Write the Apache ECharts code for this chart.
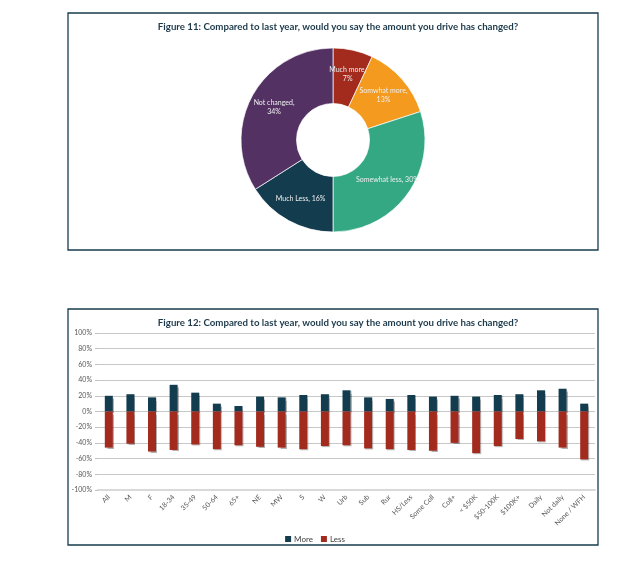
<!DOCTYPE html>
<html>
<head>
<meta charset="utf-8">
<script src="https://cdn.jsdelivr.net/npm/echarts@6/dist/echarts.min.js"></script>
<style>
  html, body { margin: 0; padding: 0; background: #fff; }
  #main { width: 630px; height: 562px; }
</style>
</head>
<body>
<div id="main"></div>
<script>
// figure 11 - pie
var pieNames = ['Much more', 'Somwhat more', 'Somewhat less', 'Much Less', 'Not changed'];
var pieValues = [7, 13, 30, 16, 34];
var pieColors = ['#a22b1e', '#f39a1f', '#34a883', '#143c4f', '#533263'];
var pieWrap = [true, true, false, false, true];

// figure 12 - bars
var categories = ['All', 'M', 'F', '18-34', '35-49', '50-64', '65+', 'NE', 'MW', 'S', 'W',
  'Urb', 'Sub', 'Rur', 'HS/Less', 'Some Coll', 'Coll+', '< $50K', '$50-100K', '$100K+',
  'Daily', 'Not daily', 'None / WFH'];
var moreValues = [20, 22, 18, 34, 24, 10, 7, 19, 18, 21, 22, 27, 18, 16, 21, 19, 20, 19, 21, 22, 27, 29, 10];
var lessValues = [-46, -41, -51, -49, -42, -48, -43, -45, -46, -48, -44, -43, -47, -48, -49, -50, -40, -53, -44, -35, -38, -46, -61];

var font = 'Lato';
var titleColor = '#1c3a4b';
var boxColor = '#173c4e';

var pieData = [];
for (var i = 0; i < pieNames.length; i++) {
  pieData.push({
    name: pieNames[i],
    value: pieValues[i],
    itemStyle: { color: pieColors[i] },
    wrap: pieWrap[i]
  });
}

var myChart = echarts.init(document.getElementById('main'));

var option = {
  animation: false,
  textStyle: { fontFamily: font },
  graphic: [
    {
      type: 'rect',
      shape: { x: 68, y: 13, width: 530, height: 237 },
      style: { fill: 'none', stroke: boxColor, lineWidth: 1.3 },
      z: 0
    },
    {
      type: 'rect',
      shape: { x: 68, y: 309, width: 530, height: 236 },
      style: { fill: 'none', stroke: boxColor, lineWidth: 1.3 },
      z: 0
    }
  ],
  title: [
    {
      text: 'Figure 11: Compared to last year, would you say the amount you drive has changed?',
      left: 333, top: 17, textAlign: 'center',
      textStyle: { fontFamily: font, fontSize: 9.7, fontWeight: 'bold', color: titleColor }
    },
    {
      text: 'Figure 12: Compared to last year, would you say the amount you drive has changed?',
      left: 333, top: 313, textAlign: 'center',
      textStyle: { fontFamily: font, fontSize: 9.7, fontWeight: 'bold', color: titleColor }
    }
  ],
  legend: {
    data: ['More', 'Less'],
    left: 'center',
    top: 530,
    itemWidth: 6,
    itemHeight: 6,
    itemGap: 8,
    icon: 'rect',
    textStyle: { fontFamily: font, fontSize: 8, color: '#404040', padding: [0, 0, 0, -2] }
  },
  grid: { left: 98, right: 35, top: 333, bottom: 72, containLabel: false },
  xAxis: {
    type: 'category',
    data: categories,
    axisLine: { onZero: false, lineStyle: { color: '#d9d9d9', width: 2 } },
    axisTick: { show: false },
    axisLabel: {
      rotate: 45, interval: 0, margin: 6,
      fontFamily: font, fontSize: 7, color: '#595959'
    }
  },
  yAxis: {
    type: 'value',
    min: -100, max: 100, interval: 20,
    axisLine: { show: false },
    axisTick: { show: true, length: 3, lineStyle: { color: '#bfbfbf' } },
    axisLabel: { formatter: '{value}%', margin: 6, fontFamily: font, fontSize: 7, color: '#595959' },
    splitLine: { lineStyle: { color: '#c8c8c8', width: 1 } }
  },
  series: [
    {
      name: 'Drive change',
      type: 'pie',
      center: [333, 140],
      radius: [36.5, 92],
      startAngle: 90,
      clockwise: true,
      data: pieData,
      itemStyle: { borderColor: '#fff', borderWidth: 0.7 },
      label: {
        position: 'inside',
        fontFamily: font,
        fontSize: 7,
        lineHeight: 9,
        color: '#eeeeee',
        formatter: function (p) {
          return p.data.wrap ? p.name + ',\n' + p.value + '%' : p.name + ', ' + p.value + '%';
        }
      },
      labelLine: { show: false },
      emphasis: { disabled: true }
    },
    {
      name: 'More',
      type: 'bar',
      stack: 'total',
      data: moreValues,
      barWidth: 8,
      itemStyle: {
        color: '#143c4f',
        shadowColor: 'rgba(0,0,0,0.3)', shadowBlur: 1, shadowOffsetX: 1, shadowOffsetY: 1
      }
    },
    {
      name: 'Less',
      type: 'bar',
      stack: 'total',
      data: lessValues,
      barWidth: 8,
      itemStyle: {
        color: '#a22b1e',
        shadowColor: 'rgba(0,0,0,0.3)', shadowBlur: 1, shadowOffsetX: 1, shadowOffsetY: 1
      }
    }
  ]
};

myChart.setOption(option);
</script>
</body>
</html>
